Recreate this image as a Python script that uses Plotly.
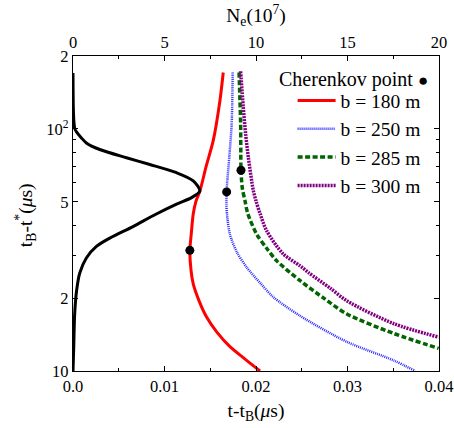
import plotly.graph_objects as go

# Electron number profile N_e (in 10^7) versus t_B - t* (microseconds)
ne_t = [170, 120, 105, 100, 97, 92, 87.5, 82.2, 76, 71.3, 65.9, 61, 55.4, 52, 48.9,
        44.3, 39.5, 35.4, 32.7, 29.3, 25.4, 21.3, 17.1, 12.5, 10]
ne_val = [0, 0.02, 0.06, 0.1, 0.2, 0.45, 0.73, 1.46, 2.92, 4.2, 5.66, 6.57, 6.93, 6.48, 5.66,
          4.5, 3.28, 2.01, 1.28, 0.73, 0.37, 0.19, 0.09, 0.04, 0]

# Arrival delay t - t_B (microseconds) for each impact parameter b
b180_t = [171, 131, 89.6, 70, 55.4, 50.4, 44.5, 37, 31.5, 26, 22.9, 19.4, 16.7, 14.5, 12.6, 11.2, 10]
b180_x = [0.01642, 0.01606, 0.01533, 0.01455, 0.01387, 0.01345, 0.01314, 0.01293, 0.01277, 0.0129,
          0.01314, 0.0138, 0.0146, 0.0157, 0.01715, 0.0188, 0.02044]

b250_t = [171, 105, 76.5, 60, 54.9, 48, 42, 36.7, 31, 26.8, 23, 20.2, 16.9, 13.2, 11.07, 10]
b250_x = [0.01745, 0.01734, 0.01708, 0.01685, 0.01679, 0.01677, 0.0169, 0.01715, 0.0179, 0.01898,
          0.0205, 0.02189, 0.02482, 0.02993, 0.03503, 0.0374]

b285_t = [171, 130, 105, 80, 67.5, 57, 50.4, 44.7, 36.7, 32, 28.5, 23.6, 20, 17.2, 14.3, 12.4]
b285_x = [0.01815, 0.01825, 0.01832, 0.01834, 0.01836, 0.0185, 0.0188, 0.0191, 0.02008, 0.0212,
          0.02227, 0.02482, 0.0274, 0.02993, 0.03503, 0.03996]

b300_t = [173, 122.7, 95, 76.5, 55.8, 50.4, 44.7, 37.9, 30.4, 27.2, 25.5, 22, 19.5, 15.7, 13.8]
b300_x = [0.01832, 0.01861, 0.01887, 0.01916, 0.0197, 0.0200, 0.02044, 0.02117, 0.02299, 0.02482,
          0.02573, 0.0281, 0.02993, 0.03503, 0.03996]

# Cherenkov points on the b = 180, 250, 285 m curves
cher_x = [0.01277, 0.01679, 0.01836]
cher_t = [31.5, 54.9, 67.5]

# Axis ticks
x_ticks = [0, 0.01, 0.02, 0.03, 0.04]
x_ticktext = ["0.0", "0.01", "0.02", "0.03", "0.04"]
ne_ticks = [0, 5, 10, 15, 20]
y_ticks = [10, 20, 50, 100, 200]
y_ticktext = ["10", "2", "5", "10<sup>2</sup>", "2"]
y_minor = [30, 40, 60, 70, 80, 90]

FONT = "Liberation Serif"

fig = go.Figure()

fig.add_trace(go.Scatter(x=ne_val, y=ne_t, xaxis="x2", yaxis="y", mode="lines",
                         line=dict(color="black", width=3, shape="spline", smoothing=0.8),
                         showlegend=False))

fig.add_trace(go.Scatter(x=b180_x, y=b180_t, mode="lines", name="b = 180 m",
                         line=dict(color="#ff0000", width=3, shape="spline", smoothing=0.8)))
fig.add_trace(go.Scatter(x=b250_x, y=b250_t, mode="lines", name="b = 250 m",
                         line=dict(color="#2a2aff", width=2.5, shape="spline", smoothing=0.8,
                                   dash="1px,1px")))
fig.add_trace(go.Scatter(x=b285_x, y=b285_t, mode="lines", name="b = 285 m",
                         line=dict(color="#006400", width=3.5, shape="spline", smoothing=0.8,
                                   dash="5px,2.5px")))
fig.add_trace(go.Scatter(x=b300_x, y=b300_t, mode="lines", name="b = 300 m",
                         line=dict(color="#800080", width=3.5, shape="spline", smoothing=0.8,
                                   dash="2px,1px")))

fig.add_trace(go.Scatter(x=cher_x, y=cher_t, mode="markers", showlegend=False,
                         marker=dict(color="black", size=9)))

axis_common = dict(showline=True, linecolor="black", linewidth=1.3, ticks="inside",
                   tickcolor="black", tickwidth=1, ticklen=5, showgrid=False, zeroline=False,
                   tickfont=dict(family=FONT, size=16.5, color="black"))

fig.update_layout(
    width=454, height=428,
    margin=dict(l=73, r=15, t=56, b=57, autoexpand=False),
    paper_bgcolor="white", plot_bgcolor="white",
    font=dict(family=FONT, color="black"),
    xaxis=dict(range=[0, 0.04], tickmode="array", tickvals=x_ticks, ticktext=x_ticktext,
               minor=dict(dtick=0.005, tick0=0, ticks="inside", ticklen=3, tickcolor="black"),
               title=dict(text="t-t<sub>B</sub>(<i>μ</i>s)", font=dict(family=FONT, size=19.5),
                          standoff=8),
               **axis_common),
    xaxis2=dict(range=[0, 20], overlaying="x", side="top", tickmode="array", tickvals=ne_ticks,
                minor=dict(dtick=2.5, tick0=0, ticks="inside", ticklen=3, tickcolor="black"),
                title=dict(text="N<sub>e</sub>(10<sup>7</sup>)", font=dict(family=FONT, size=19.5),
                           standoff=5),
                **axis_common),
    yaxis=dict(type="log", range=[1, 2.30103], tickmode="array", tickvals=y_ticks,
               ticktext=y_ticktext, mirror="ticks",
               minor=dict(tickmode="array", tickvals=y_minor, ticks="inside", ticklen=3,
                          tickcolor="black"),
               **axis_common),
    legend=dict(x=0.60, y=0.92, xanchor="left", yanchor="top", bgcolor="rgba(0,0,0,0)",
                font=dict(family=FONT, size=19.5, color="black"), itemwidth=38,
                tracegroupgap=0),
    annotations=[
        # vertical axis title
        dict(xref="paper", yref="paper", x=-0.131, y=0.495, xanchor="center", yanchor="middle",
             textangle=-90, showarrow=False,
             text="t<sub>B</sub>-t<sup>*</sup>(<i>μ</i>s)",
             font=dict(family=FONT, size=19.5, color="black")),
        # legend heading with the Cherenkov point marker
        dict(xref="paper", yref="paper", x=0.975, y=0.926, xanchor="right",
             yanchor="middle", showarrow=False,
             text="Cherenkov point <span style='font-size:17px'>●</span>",
             font=dict(family=FONT, size=20, color="black")),
    ],
)

fig.write_html("out.html")
